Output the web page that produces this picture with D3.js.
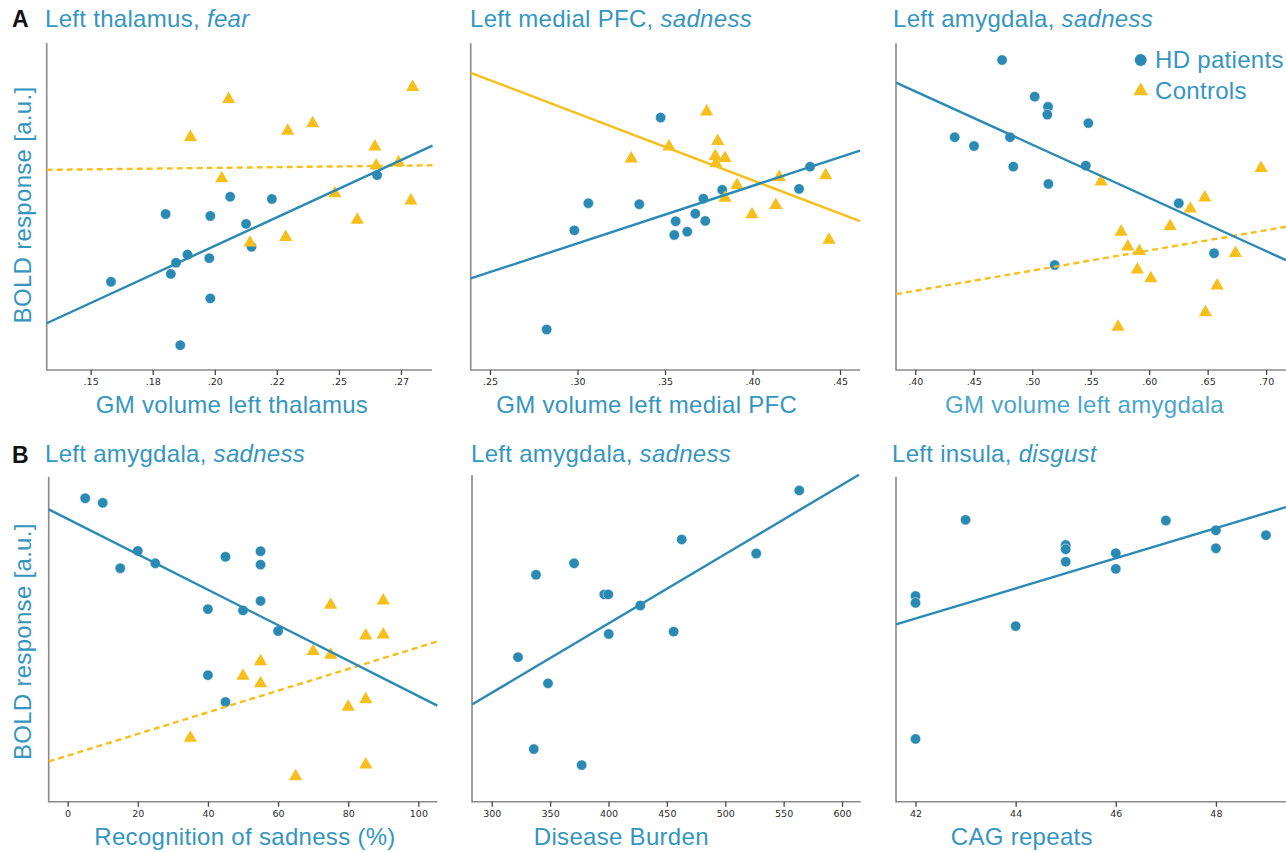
<!DOCTYPE html>
<html>
<head>
<meta charset="utf-8">
<script src="https://cdn.jsdelivr.net/npm/d3@7"></script>
<style>
  html, body { margin: 0; padding: 0; background: #fff; }
  svg { display: block; }
</style>
</head>
<body>
<svg id="chart" width="1286" height="852"></svg>
<script>
// ---------------- DATA ----------------
const titles = [
  ["Left thalamus, ", "fear"],
  ["Left medial PFC, ", "sadness"],
  ["Left amygdala, ", "sadness"],
  ["Left amygdala, ", "sadness"],
  ["Left amygdala, ", "sadness"],
  ["Left insula, ", "disgust"]
];
const xLabels = [
  "GM volume left thalamus",
  "GM volume left medial PFC",
  "GM volume left amygdala",
  "Recognition of sadness (%)",
  "Disease Burden",
  "CAG repeats"
];
const yLabel = "BOLD response [a.u.]";
const legendLabels = ["HD patients", "Controls"];
const panelLetters = ["A", "B"];

// tick values & labels
const ticks1 = [0.15, 0.175, 0.2, 0.225, 0.25, 0.275];
const tickLabels1 = [".15", ".18", ".20", ".22", ".25", ".27"];
const ticks2 = [0.25, 0.30, 0.35, 0.40, 0.45];
const tickLabels2 = [".25", ".30", ".35", ".40", ".45"];
const ticks3 = [0.40, 0.45, 0.50, 0.55, 0.60, 0.65, 0.70];
const tickLabels3 = [".40", ".45", ".50", ".55", ".60", ".65", ".70"];
const ticks4 = [0, 20, 40, 60, 80, 100];
const tickLabels4 = ["0", "20", "40", "60", "80", "100"];
const ticks5 = [300, 350, 400, 450, 500, 550, 600];
const tickLabels5 = ["300", "350", "400", "450", "500", "550", "600"];
const ticks6 = [42, 44, 46, 48];
const tickLabels6 = ["42", "44", "46", "48"];

// Panel 1: Left thalamus, fear
const hd1 = [[0.1582,2.70],[0.1802,4.77],[0.1823,2.94],[0.1844,3.28],[0.1890,3.53],[0.1861,0.76],
  [0.1982,4.71],[0.1978,3.42],[0.1982,2.19],[0.2062,5.30],[0.2126,4.47],[0.2148,3.77],[0.2230,5.23],[0.2654,5.96]];
const ct1 = [[0.1902,7.12],[0.2056,8.28],[0.2028,5.86],[0.2142,3.89],[0.2294,7.31],[0.2394,7.54],[0.2286,4.06],
  [0.2484,5.40],[0.2574,4.59],[0.2645,6.83],[0.2650,6.25],[0.2740,6.35],[0.2797,8.65],[0.2790,5.18]];
const fitHd1 = [[0.1323,1.43],[0.2877,6.86]];
const fitCt1 = [[0.1323,6.12],[0.2877,6.26]];

// Panel 2: Left medial PFC, sadness
const hd2 = [[0.2824,1.24],[0.2982,4.27],[0.3062,5.10],[0.3353,5.07],[0.3475,7.72],[0.3561,4.55],[0.3553,4.13],
  [0.3627,4.23],[0.3673,4.78],[0.3730,4.56],[0.3719,5.24],[0.3827,5.51],[0.4266,5.54],[0.4329,6.22]];
const ct2 = [[0.3307,6.46],[0.3523,6.83],[0.3738,7.90],[0.3801,7.00],[0.3787,6.54],[0.3843,6.48],[0.3791,6.32],
  [0.3911,5.65],[0.3843,5.26],[0.3997,4.76],[0.4133,5.04],[0.4153,5.90],[0.4418,5.95],[0.4437,3.98]];
const fitHd2 = [[0.239,2.80],[0.4614,6.71]];
const fitCt2 = [[0.239,9.09],[0.4614,4.55]];

// Panel 3: Left amygdala, sadness (GM volume)
const hd3 = [[0.4742,9.48],[0.5021,8.36],[0.5135,8.05],[0.5129,7.81],[0.5480,7.55],[0.4337,7.12],[0.4502,6.85],
  [0.4810,7.12],[0.4838,6.22],[0.5458,6.25],[0.5138,5.69],[0.6253,5.10],[0.6555,3.57],[0.5192,3.21]];
const ct3 = [[0.5589,5.76],[0.6957,6.17],[0.6476,5.27],[0.6352,4.93],[0.6179,4.40],[0.5760,4.22],[0.5817,3.77],
  [0.5916,3.63],[0.6737,3.57],[0.5899,3.07],[0.6014,2.80],[0.6581,2.58],[0.6481,1.76],[0.5734,1.32]];
const fitHd3 = [[0.3835,8.79],[0.717,3.36]];
const fitCt3 = [[0.3835,2.32],[0.717,4.38]];

// Panel 4: Recognition of sadness
const hd4 = [[5,9.28],[10,9.14],[20,7.67],[15,7.14],[25,7.29],[45,7.49],[55,7.66],[55,7.25],[55,6.14],
  [40,5.89],[50,5.85],[60,5.22],[40,3.87],[45,3.05]];
const ct4 = [[75,6.02],[90,6.15],[85,5.08],[90,5.11],[70,4.60],[75,4.49],[55,4.29],[50,3.85],[55,3.62],
  [80,2.90],[85,3.13],[35,1.95],[65,0.77],[85,1.13]];
const fitHd4 = [[-5.4,8.94],[105.4,2.94]];
const fitCt4 = [[-5.4,1.23],[105.4,4.90]];

// Panel 5: Disease burden
const hd5 = [[563.4,9.52],[462.7,8.02],[526.5,7.59],[370.5,7.29],[337.9,6.94],[396.4,6.34],[399.8,6.34],
  [427.2,6.00],[400.2,5.13],[455.8,5.20],[322.5,4.42],[348.2,3.62],[336.0,1.61],[377.0,1.12]];
const fitHd5 = [[283.1,2.97],[614.5,10.0]];

// Panel 6: CAG repeats
const hd6 = [[43,8.62],[47,8.60],[48,8.30],[49,8.15],[48,7.75],[45,7.85],[45,7.72],[45,7.34],
  [46,7.60],[46,7.12],[42,6.29],[42,6.08],[44,5.37],[42,1.92]];
const fitHd6 = [[41.61,5.42],[49.4,9.01]];

// ---------------- LAYOUT / STYLE ----------------
const BLUE = "#2a8ab3";
const TEXTBLUE = "#3496bf";
const LIGHTBLUE = "#4aa6cb";
const YELLOW = "#f6bf1c";
const FONT = "'Liberation Sans', Arial, Helvetica, sans-serif";
const FS = 24;
const LS = "0.3px";

const frames = [
  {x0:46.7, x1:432,   y0:43,    y1:370,   dom:[0.1323,0.2875], ticks:ticks1, labels:tickLabels1, hd:hd1, ct:ct1, fitHd:fitHd1, fitCt:fitCt1, ctDash:true,  tx:45,  ty:27,  lx:232,   ly:413, lcol:TEXTBLUE},
  {x0:470.7,x1:860,   y0:43.3,  y1:370,   dom:[0.239,0.4614],  ticks:ticks2, labels:tickLabels2, hd:hd2, ct:ct2, fitHd:fitHd2, fitCt:fitCt2, ctDash:false, tx:470, ty:27,  lx:646.7, ly:413, lcol:TEXTBLUE},
  {x0:896,  x1:1286,  y0:43.3,  y1:370,   dom:[0.3835,0.717],  ticks:ticks3, labels:tickLabels3, hd:hd3, ct:ct3, fitHd:fitHd3, fitCt:fitCt3, ctDash:true,  tx:893, ty:27,  lx:1084.5,ly:413, lcol:LIGHTBLUE},
  {x0:48.7, x1:437.3, y0:476.7, y1:801.7, dom:[-5.4,105.4],    ticks:ticks4, labels:tickLabels4, hd:hd4, ct:ct4, fitHd:fitHd4, fitCt:fitCt4, ctDash:true,  tx:45,  ty:462, lx:245,   ly:845, lcol:TEXTBLUE},
  {x0:472,  x1:860.7, y0:475,   y1:801.7, dom:[283.1,616],     ticks:ticks5, labels:tickLabels5, hd:hd5, ct:null, fitHd:fitHd5, fitCt:null,   ctDash:false, tx:471, ty:462, lx:621.3, ly:845, lcol:TEXTBLUE},
  {x0:896,  x1:1286,  y0:476.7, y1:801.7, dom:[41.61,49.4],    ticks:ticks6, labels:tickLabels6, hd:hd6, ct:null, fitHd:fitHd6, fitCt:null,   ctDash:false, tx:892, ty:462, lx:1021.8,ly:845, lcol:TEXTBLUE}
];

const svg = d3.select("#chart");
const triangle = d3.symbol().type(d3.symbolTriangle).size(76);

frames.forEach((f, i) => {
  const x = d3.scaleLinear().domain(f.dom).range([f.x0, f.x1]);
  const y = d3.scaleLinear().domain([0, 10]).range([f.y1, f.y1 - 327]);
  const g = svg.append("g");

  // axes
  const xAxis = d3.axisBottom(x).tickValues(f.ticks).tickFormat((d, k) => f.labels[k]).tickSize(5).tickSizeOuter(0);
  const ax = g.append("g").attr("transform", `translate(0,${f.y1})`).call(xAxis);
  ax.select(".domain").attr("stroke", "#8a8a8a").attr("stroke-width", 1.6)
    .attr("d", `M${f.x0},0H${f.x1}`);
  ax.selectAll(".tick line").attr("stroke", "#444").attr("stroke-width", 1.3);
  ax.selectAll(".tick text").attr("fill", "#2a2a2a").attr("font-size", 9.5)
    .attr("font-family", "'DejaVu Sans', sans-serif").attr("dy", "0.95em").attr("y", 6);

  g.append("line").attr("x1", f.x0).attr("x2", f.x0).attr("y1", f.y0).attr("y2", f.y1 + 0.8)
    .attr("stroke", "#8a8a8a").attr("stroke-width", 1.6);

  // points
  g.append("g").selectAll("circle").data(f.hd).join("circle")
    .attr("cx", d => x(d[0])).attr("cy", d => y(d[1])).attr("r", 5.2)
    .attr("fill", BLUE).attr("stroke", "#fff").attr("stroke-width", 0.5);
  if (f.ct) {
    g.append("g").selectAll("path").data(f.ct).join("path")
      .attr("d", triangle).attr("transform", d => `translate(${x(d[0])},${y(d[1])})`)
      .attr("fill", YELLOW);
  }

  // fit lines
  const line = d3.line().x(d => x(d[0])).y(d => y(d[1]));
  if (f.fitCt) {
    g.append("path").datum(f.fitCt).attr("d", line).attr("fill", "none")
      .attr("stroke", YELLOW).attr("stroke-width", 2.4)
      .attr("stroke-dasharray", f.ctDash ? "6,4" : null);
  }
  g.append("path").datum(f.fitHd).attr("d", line).attr("fill", "none")
    .attr("stroke", BLUE).attr("stroke-width", 2.4);

  // title
  const t = g.append("text").attr("x", f.tx).attr("y", f.ty)
    .attr("font-family", FONT).attr("font-size", FS).attr("letter-spacing", LS).attr("fill", TEXTBLUE);
  t.append("tspan").text(titles[i][0]);
  t.append("tspan").attr("font-style", "italic").text(titles[i][1]);

  // x label
  g.append("text").attr("x", f.lx).attr("y", f.ly).attr("text-anchor", "middle")
    .attr("font-family", FONT).attr("font-size", FS).attr("letter-spacing", LS)
    .attr("fill", f.lcol).text(xLabels[i]);
});

// y labels
[[205, 0], [641.7, 1]].forEach(([cy, k]) => {
  svg.append("text").attr("transform", `translate(31,${cy}) rotate(-90)`)
    .attr("text-anchor", "middle").attr("font-family", FONT).attr("font-size", FS)
    .attr("letter-spacing", LS).attr("fill", TEXTBLUE).text(yLabel);
});

// panel letters
svg.append("text").attr("x", 12).attr("y", 27).attr("font-family", FONT).attr("font-weight", "bold")
  .attr("font-size", 23).attr("fill", "#111").text(panelLetters[0]);
svg.append("text").attr("x", 12).attr("y", 463).attr("font-family", FONT).attr("font-weight", "bold")
  .attr("font-size", 23).attr("fill", "#111").text(panelLetters[1]);

// legend
const lg = svg.append("g");
lg.append("circle").attr("cx", 1140.7).attr("cy", 60).attr("r", 6).attr("fill", BLUE);
lg.append("path").attr("d", d3.symbol().type(d3.symbolTriangle).size(95))
  .attr("transform", "translate(1140.7,91)").attr("fill", YELLOW);
lg.append("text").attr("x", 1155).attr("y", 68).attr("font-family", FONT).attr("font-size", FS)
  .attr("letter-spacing", LS).attr("fill", TEXTBLUE).text(legendLabels[0]);
lg.append("text").attr("x", 1155).attr("y", 99).attr("font-family", FONT).attr("font-size", FS)
  .attr("letter-spacing", LS).attr("fill", TEXTBLUE).text(legendLabels[1]);
</script>
</body>
</html>
